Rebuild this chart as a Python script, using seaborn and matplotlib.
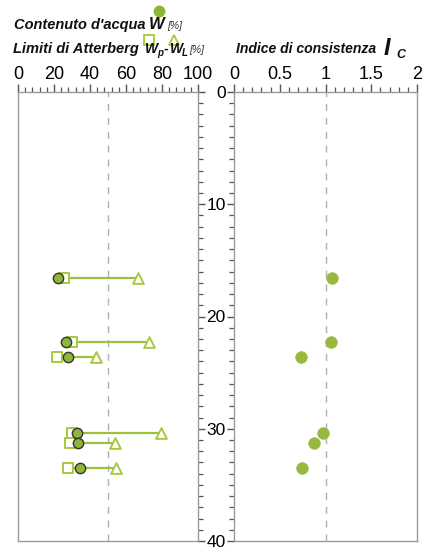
import matplotlib
matplotlib.use("Agg")
import matplotlib.pyplot as plt
from matplotlib.lines import Line2D
from matplotlib.ticker import MultipleLocator
import seaborn as sns
import pandas as pd
import numpy as np

# ---- data ----
depth = [16.6, 22.3, 23.6, 30.35, 31.3, 33.5]
water_content = [22.2, 26.5, 27.6, 32.6, 33.2, 34.6]
plastic_limit = [25.6, 29.8, 21.5, 29.8, 28.9, 27.6]
liquid_limit = [66.7, 72.8, 43.3, 79.6, 53.7, 54.4]
consistency_index = [1.07, 1.065, 0.73, 0.97, 0.87, 0.74]
x1_ticks = [0, 20, 40, 60, 80, 100]
x2_ticks = [0, 0.5, 1, 1.5, 2]
x2_labels = ["0", "0.5", "1", "1.5", "2"]
y_ticks = [0, 10, 20, 30, 40]

df = pd.DataFrame({"depth": depth, "W": water_content, "Wp": plastic_limit,
                   "WL": liquid_limit, "Ic": consistency_index})

sns.set_theme(style="white")
plt.rcParams['font.family'] = ['Liberation Sans', 'DejaVu Sans']

W, H = 424, 549
fig = plt.figure(figsize=(W / 100, H / 100), dpi=100)

def fx(px):
    return px / W

def fy(py):
    return 1 - py / H

TOP, BOT = 92, 541
ax1 = fig.add_axes([fx(18), fy(BOT), fx(198) - fx(18), fy(TOP) - fy(BOT)])
ax2 = fig.add_axes([fx(234), fy(BOT), fx(417) - fx(234), fy(TOP) - fy(BOT)])

GREEN_LINE = "#9cc23c"
GREEN_EDGE = "#a6c93e"
GREEN_FILL = "#8db53a"
GREEN_IC = "#98b940"
SPINE = "#9a9a9a"
TICK = "#555555"

# left panel
ax1.hlines(df["depth"], df["Wp"], df["WL"], color=GREEN_LINE, lw=1.6, zorder=2)
sns.scatterplot(data=df, x="Wp", y="depth", ax=ax1, marker="s", s=48,
                facecolor="white", edgecolor=GREEN_EDGE, linewidth=1.4, zorder=3)
sns.scatterplot(data=df, x="WL", y="depth", ax=ax1, marker="^", s=60,
                facecolor="white", edgecolor=GREEN_EDGE, linewidth=1.4, zorder=3)
sns.scatterplot(data=df, x="W", y="depth", ax=ax1, marker="o", s=55,
                color=GREEN_FILL, edgecolor="#333333", linewidth=1.0, zorder=4)
ax1.axvline(50, color="#b0b0b0", lw=1.0, ls=(0, (5, 5)), zorder=1)

# right panel
sns.scatterplot(data=df, x="Ic", y="depth", ax=ax2, marker="o", s=70,
                color=GREEN_IC, edgecolor=GREEN_IC, linewidth=0.5, zorder=4)
ax2.axvline(1, color="#b0b0b0", lw=1.0, ls=(0, (5, 5)), zorder=1)

for ax in (ax1, ax2):
    ax.set_ylim(40, 0)
    ax.set_xlabel("")
    ax.set_ylabel("")
    ax.xaxis.tick_top()
    for s in ax.spines.values():
        s.set_color(SPINE)
        s.set_linewidth(1.0)
    ax.tick_params(axis="x", which="major", direction="out", length=6, width=1,
                   color=TICK, labelsize=13, pad=0.5, labelcolor="black")
    ax.tick_params(axis="x", which="minor", direction="out", length=3.5, width=0.9,
                   color=TICK)
    ax.tick_params(axis="y", which="major", direction="out", length=5, width=1,
                   color=TICK, labelsize=12.5, pad=1.0, labelcolor="black")
    ax.tick_params(axis="y", which="minor", direction="out", length=3.5, width=0.9,
                   color=TICK)
    ax.set_yticks(y_ticks)
    ax.yaxis.set_minor_locator(MultipleLocator(1))

ax1.set_xlim(0, 100)
ax1.set_xticks(x1_ticks)
ax1.set_xticklabels([str(t) for t in x1_ticks])
ax1.xaxis.set_minor_locator(MultipleLocator(4))
ax1.yaxis.tick_right()
ax1.tick_params(axis="y", which="both", labelright=False, labelleft=False)

ax2.set_xlim(0, 2)
ax2.set_xticks(x2_ticks)
ax2.set_xticklabels(x2_labels)
ax2.xaxis.set_minor_locator(MultipleLocator(0.1))
ax2.yaxis.tick_left()
ax2.set_yticklabels([str(t) for t in y_ticks])

# header texts
bi = dict(fontweight="bold", style="italic", color="#111111")
pct = dict(fontsize=7.5, style="italic", va="baseline", color="#333333")
fig.text(fx(14), fy(29), "Contenuto d'acqua", fontsize=10.5, va="baseline", **bi)
fig.text(fx(149), fy(29), "W", fontsize=12, va="baseline", **bi)
fig.text(fx(167), fy(29), "[%]", **pct)

fig.text(fx(13), fy(53), "Limiti di Atterberg", fontsize=10.5, va="baseline", **bi)
fig.text(fx(145), fy(53), "W", fontsize=10, va="baseline", **bi)
fig.text(fx(157), fy(56), "p", fontsize=7, va="baseline", **bi)
fig.text(fx(164), fy(53), "-", fontsize=10, va="baseline", **bi)
fig.text(fx(170), fy(53), "W", fontsize=10, va="baseline", **bi)
fig.text(fx(182), fy(56), "L", fontsize=7, va="baseline", **bi)
fig.text(fx(189), fy(53), "[%]", **pct)

fig.text(fx(236), fy(53), "Indice di consistenza", fontsize=10.1, va="baseline", **bi)
fig.text(fx(384), fy(55), "I", fontsize=17, va="baseline", **bi)
fig.text(fx(396), fy(58), "C", fontsize=9, va="baseline", **bi)

fig.add_artist(Line2D([fx(159)], [fy(11)], transform=fig.transFigure, marker="o",
                      markersize=7.5, color=GREEN_FILL, markeredgecolor=GREEN_FILL, ls=""))
fig.add_artist(Line2D([fx(149)], [fy(40)], transform=fig.transFigure, marker="s",
                      markersize=7, markerfacecolor="white", markeredgecolor=GREEN_EDGE,
                      markeredgewidth=1.3, ls=""))
fig.add_artist(Line2D([fx(174)], [fy(40)], transform=fig.transFigure, marker="^",
                      markersize=7.5, markerfacecolor="white", markeredgecolor=GREEN_EDGE,
                      markeredgewidth=1.3, ls=""))

fig.savefig("out.png", dpi=100)
